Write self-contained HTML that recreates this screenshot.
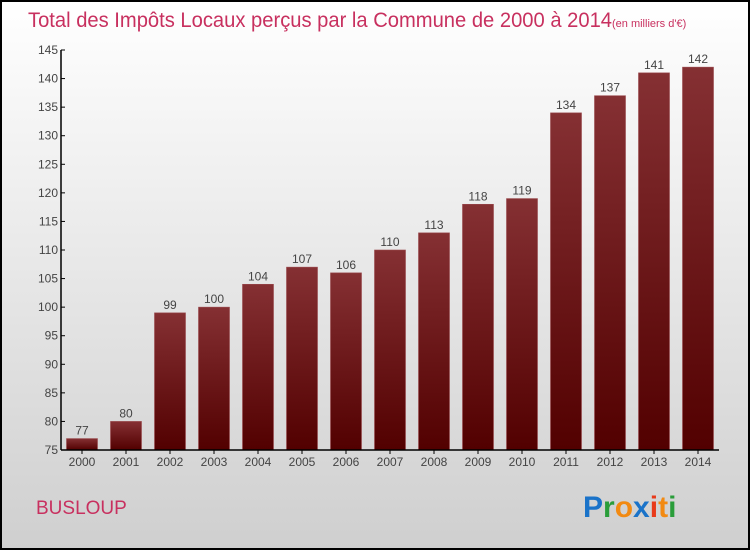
<!DOCTYPE html>
<html><head><meta charset="utf-8"><style>
html,body{margin:0;padding:0;}
body{width:750px;height:550px;overflow:hidden;font-family:"Liberation Sans",sans-serif;}
</style></head><body>
<svg id="c" width="750" height="550" xmlns="http://www.w3.org/2000/svg">
<defs>
<linearGradient id="bg" x1="0" y1="0" x2="0" y2="1"><stop offset="0" stop-color="#ffffff"/><stop offset="1" stop-color="#cfcfcf"/></linearGradient>
<linearGradient id="bar" x1="0" y1="0" x2="0" y2="1"><stop offset="0" stop-color="#853033"/><stop offset="1" stop-color="#520000"/></linearGradient>
</defs>
<rect x="1" y="1" width="748" height="548" fill="url(#bg)" stroke="#000" stroke-width="2"/>
<text x="28" y="27" font-size="21" fill="#c8305f"><tspan textLength="584" lengthAdjust="spacingAndGlyphs">Total des Impôts Locaux perçus par la Commune de 2000 à 2014</tspan><tspan font-size="11">(en milliers d'€)</tspan></text>
<text x="36" y="514" font-size="19" fill="#c8305f">BUSLOUP</text>
<g font-size="30" font-weight="bold" font-family="'Liberation Sans',sans-serif">
<text x="583" y="517"><tspan fill="#1a73c9">P</tspan><tspan fill="#2a9d3a">r</tspan><tspan fill="#f28a12">o</tspan><tspan fill="#1a73c9">x</tspan><tspan fill="#e83a1a">i</tspan><tspan fill="#f28a12">t</tspan><tspan fill="#2a9d3a">i</tspan></text>
</g>
<g id="plot"></g>
</svg>
<script>
const categories=["2000","2001","2002","2003","2004","2005","2006","2007","2008","2009","2010","2011","2012","2013","2014"];
const values=[77,80,99,100,104,107,106,110,113,118,119,134,137,141,142];
const yTicks=[75,80,85,90,95,100,105,110,115,120,125,130,135,140,145];
const yMin=75,yMax=145,plotTop=50,plotBottom=450,plotLeft=61,step=44,bw=31;
const yS=v=>plotBottom-(v-yMin)/(yMax-yMin)*(plotBottom-plotTop);
const xc=i=>82+i*step;
const g=document.getElementById('plot');
const NS="http://www.w3.org/2000/svg";
function mk(t,a){const e=document.createElementNS(NS,t);for(const k in a)e.setAttribute(k,a[k]);g.appendChild(e);return e;}
values.forEach((v,i)=>{
 const r=mk('rect',{x:xc(i)-bw/2,y:yS(v),width:bw,height:plotBottom-yS(v),fill:'url(#bar)',stroke:'#9a4a4e','stroke-width':0.6});
 
 
 const t=mk('text',{x:xc(i),y:yS(v)-4,'font-size':12,fill:'#444','text-anchor':'middle'});
 t.textContent=v;
 
 
 const l=mk('text',{x:xc(i),y:plotBottom+16,'font-size':12,fill:'#444','text-anchor':'middle'});
 l.textContent=categories[i];
 
 
 const tk=mk('line',{x1:xc(i),x2:xc(i),y1:plotBottom,y2:plotBottom+4,stroke:'#000'});
 
 
});
yTicks.forEach(v=>{
 const t=mk('text',{x:plotLeft-3,y:yS(v)+4,'font-size':12,fill:'#444','text-anchor':'end'});
 t.textContent=v;
 
 
 const tk=mk('line',{x1:plotLeft,x2:plotLeft+4,y1:yS(v),y2:yS(v),stroke:'#000'});
 
 
});
const ya=mk('line',{x1:plotLeft,x2:plotLeft,y1:plotTop,y2:plotBottom,stroke:'#000','stroke-width':1.5});


const xa=mk('line',{x1:plotLeft,x2:719,y1:plotBottom,y2:plotBottom,stroke:'#000','stroke-width':1.5});


</script>
</body></html>
